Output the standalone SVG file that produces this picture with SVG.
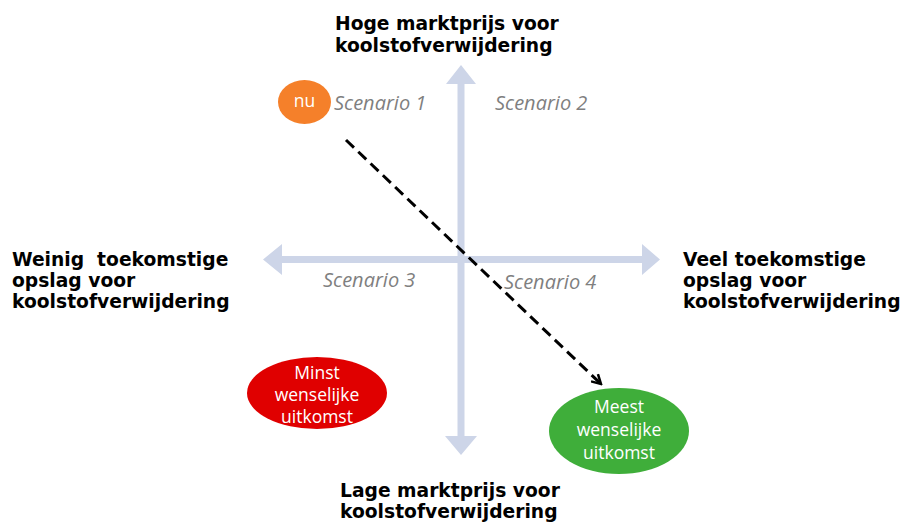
<svg xmlns="http://www.w3.org/2000/svg" width="900" height="523" viewBox="0 0 900 523">
<style>
.lbl{font-family:"DejaVu Sans",Verdana,sans-serif;font-weight:bold;font-size:18.7px;fill:#000;white-space:pre}
.sc{font-family:"Open Sans","Liberation Sans",sans-serif;font-style:italic;font-size:20px;fill:#7f7f7f}
.wt{font-family:"Open Sans","Liberation Sans",sans-serif;font-size:17.5px;fill:#fff;text-anchor:middle}
.ax{fill:#cdd5e8}
</style>
<defs>
<marker id="chev" viewBox="0 0 12 12" refX="10" refY="6" markerWidth="12" markerHeight="12" markerUnits="userSpaceOnUse" orient="auto">
<path d="M1,1 L10,6 L1,11" fill="none" stroke="#000" stroke-width="2.5"/>
</marker>
</defs>
<g id="axes">
<polygon class="ax" points="461,65 476,84 464.5,84 464.5,436 477,436 461,455 445,436 457.5,436 457.5,84 446,84"/>
<polygon class="ax" points="263,259.5 282,244 282,256 642,256 642,244 660,259.5 642,275 642,263 282,263 282,275"/>
</g>
<g id="connectors">
<line x1="346" y1="140" x2="601" y2="384" stroke="#000" stroke-width="3" stroke-dasharray="11,6" marker-end="url(#chev)"/>
</g>
<g id="label-top"><text class="lbl" x="335" y="30">Hoge marktprijs voor</text><text class="lbl" x="335" y="52">koolstofverwijdering</text></g>
<g id="label-left"><text class="lbl" x="12" y="266" xml:space="preserve">Weinig  toekomstige</text><text class="lbl" x="12" y="287">opslag voor</text><text class="lbl" x="12" y="308">koolstofverwijdering</text></g>
<g id="label-right"><text class="lbl" x="683" y="266">Veel toekomstige</text><text class="lbl" x="683" y="287">opslag voor</text><text class="lbl" x="683" y="308">koolstofverwijdering</text></g>
<g id="label-bottom"><text class="lbl" x="340" y="497">Lage marktprijs voor</text><text class="lbl" x="340" y="518">koolstofverwijdering</text></g>
<g id="scenarios">
<text class="sc" x="334" y="110">Scenario 1</text>
<text class="sc" x="495" y="110">Scenario 2</text>
<text class="sc" x="323" y="287">Scenario 3</text>
<text class="sc" x="504" y="289">Scenario 4</text>
</g>
<g id="nu"><ellipse cx="304.5" cy="102" rx="26.5" ry="22" fill="#f5802a"/><text class="wt" x="304.5" y="107">nu</text></g>
<g id="minst"><ellipse cx="317" cy="393" rx="70" ry="36" fill="#e00000"/><text class="wt" x="317" y="379">Minst</text><text class="wt" x="317" y="401">wenselijke</text><text class="wt" x="317" y="423">uitkomst</text></g>
<g id="meest"><ellipse cx="619" cy="431" rx="70" ry="43" fill="#3fae3a"/><text class="wt" x="619" y="413">Meest</text><text class="wt" x="619" y="436">wenselijke</text><text class="wt" x="619" y="459">uitkomst</text></g>
</svg>
